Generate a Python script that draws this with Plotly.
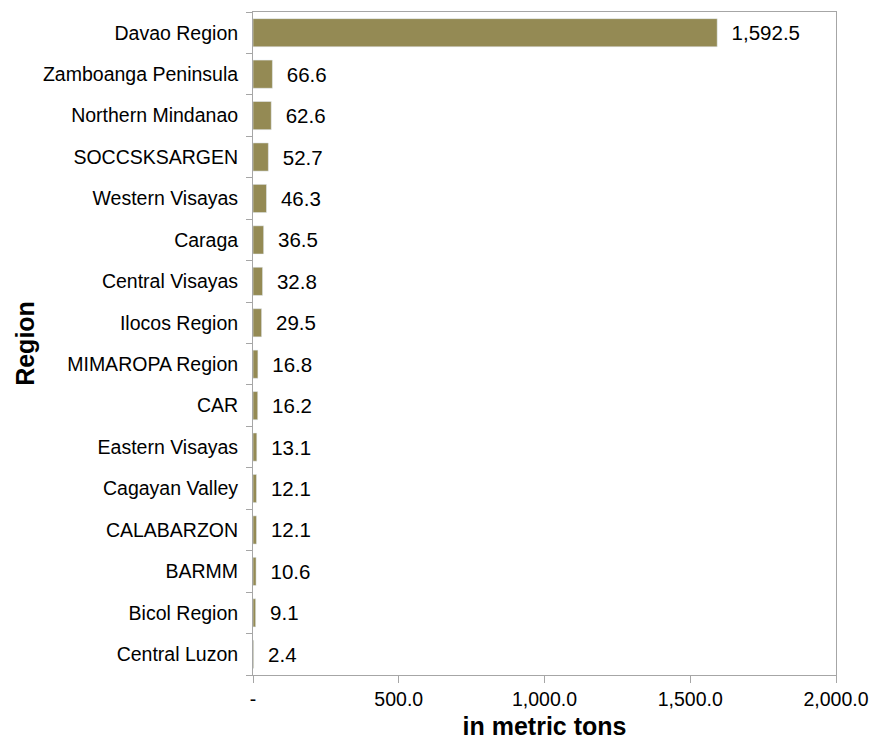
import plotly.graph_objects as go

regions = ["Davao Region", "Zamboanga Peninsula", "Northern Mindanao", "SOCCSKSARGEN",
           "Western Visayas", "Caraga", "Central Visayas", "Ilocos Region", "MIMAROPA Region",
           "CAR", "Eastern Visayas", "Cagayan Valley", "CALABARZON", "BARMM",
           "Bicol Region", "Central Luzon"]
values = [1592.5, 66.6, 62.6, 52.7, 46.3, 36.5, 32.8, 29.5, 16.8, 16.2, 13.1, 12.1, 12.1, 10.6, 9.1, 2.4]
tick_vals = [0, 500, 1000, 1500, 2000]
tick_text = ["-", "500.0", "1,000.0", "1,500.0", "2,000.0"]

fig = go.Figure(go.Bar(
    x=values, y=regions, orientation="h",
    marker=dict(color="#948A54"),
    text=["  " + f"{v:,.1f}" for v in values],
    textposition="outside", cliponaxis=False,
    textfont=dict(family="Liberation Sans, Arial", size=20.5, color="#000000"),
))

fig.update_layout(
    width=870, height=740,
    margin=dict(l=253, r=34, t=12, b=65),
    paper_bgcolor="white", plot_bgcolor="white",
    bargap=0.32, showlegend=False,
    font=dict(family="Liberation Sans, Arial", size=19.5, color="#000000"),
    xaxis=dict(range=[0, 2000], tickvals=tick_vals, ticktext=tick_text,
               showgrid=False, zeroline=False, showline=True, linecolor="#a6a6a6",
               linewidth=1, mirror=True, ticks="outside", ticklen=7, tickcolor="#a6a6a6",
               tickfont=dict(size=19.5), automargin=False,
               title=dict(text="<b>in metric tons</b>", font=dict(size=25), standoff=10)),
    yaxis=dict(categoryorder="array", categoryarray=regions[::-1], autorange=True,
               showgrid=False, zeroline=False, showline=True, linecolor="#a6a6a6",
               linewidth=1, mirror=True, ticks="outside", ticklen=6, tickcolor="#a6a6a6",
               tickson="boundaries", automargin=False,
               tickfont=dict(size=19.5), ticklabelstandoff=10,
               title=dict(text="<b>Region</b>", font=dict(size=25), standoff=1)),
)

fig.write_html("out.html", config={"displayModeBar": False},
               post_script="document.body.style.margin='0';document.body.style.overflow='hidden';")
